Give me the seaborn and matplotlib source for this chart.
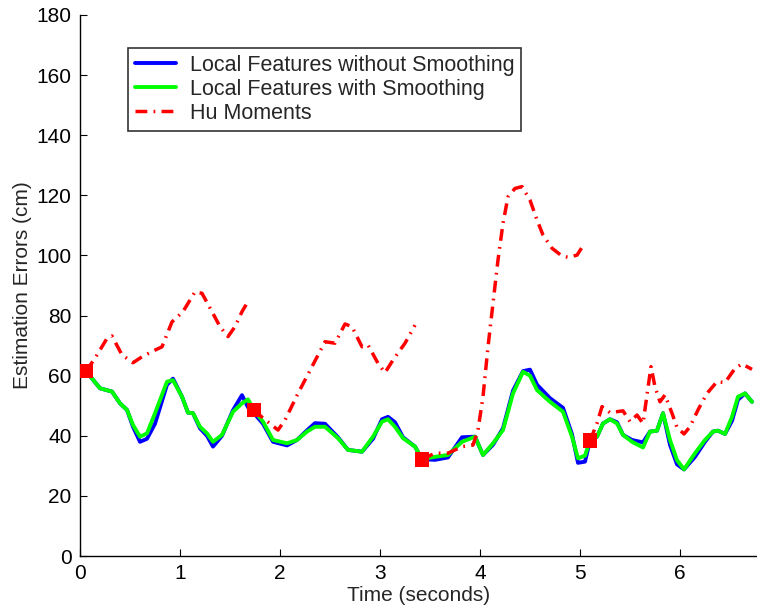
import numpy as np
import pandas as pd
import matplotlib
matplotlib.use('Agg')
import matplotlib.pyplot as plt
import seaborn as sns
from matplotlib.lines import Line2D

# local features time stamps (seconds)
t_local = [0.06, 0.20, 0.32, 0.40, 0.47, 0.53, 0.60, 0.67, 0.75, 0.87, 0.93, 1.02, 1.08, 1.13,
           1.20, 1.27, 1.33, 1.42, 1.53, 1.62, 1.68, 1.74, 1.83, 1.93, 2.07, 2.17, 2.27, 2.35,
           2.45, 2.58, 2.68, 2.82, 2.93, 3.02, 3.08, 3.15, 3.23, 3.35, 3.42, 3.55, 3.68, 3.82,
           3.95, 4.03, 4.13, 4.23, 4.33, 4.43, 4.50, 4.57, 4.70, 4.83, 4.92, 4.98, 5.05, 5.10,
           5.17, 5.23, 5.30, 5.37, 5.43, 5.52, 5.63, 5.70, 5.77, 5.83, 5.90, 5.97, 6.04, 6.15,
           6.25, 6.33, 6.38, 6.45, 6.52, 6.58, 6.65, 6.72]
smooth = [61.5, 55.8, 54.7, 50.8, 48.6, 43.6, 39.7, 40.8, 47.5, 58.0, 58.5, 53.0, 47.7, 47.5,
          43.0, 40.8, 38.0, 40.3, 48.0, 50.8, 52.1, 48.6, 44.7, 38.6, 37.5, 38.6, 41.4, 43.0,
          43.0, 39.2, 35.3, 34.7, 39.7, 44.7, 45.5, 43.0, 39.2, 36.4, 32.2, 33.0, 33.6, 38.0,
          39.7, 33.6, 37.5, 41.9, 54.1, 61.3, 60.0, 55.2, 51.3, 48.0, 39.7, 32.5, 33.4, 38.4,
          39.7, 44.1, 45.5, 44.1, 40.3, 38.0, 36.1, 41.4, 41.7, 47.5, 38.6, 31.9, 28.8, 34.2,
          38.6, 41.4, 41.7, 40.6, 46.3, 53.0, 54.1, 51.3]
no_smooth = [61.5, 55.8, 54.7, 50.8, 48.6, 43.0, 38.0, 39.0, 44.0, 57.0, 59.0, 53.0, 47.7, 47.5,
             42.5, 40.0, 36.4, 40.0, 48.5, 53.5, 49.5, 47.5, 44.0, 38.0, 36.8, 38.6, 41.8, 44.2,
             44.0, 39.5, 35.3, 34.7, 39.0, 45.5, 46.3, 44.5, 39.5, 36.4, 32.2, 32.0, 32.8, 39.5,
             39.7, 33.6, 37.0, 42.5, 55.0, 61.5, 62.0, 57.0, 52.5, 49.3, 40.5, 31.0, 31.4, 38.4,
             39.7, 44.1, 45.5, 44.5, 40.3, 38.6, 37.8, 41.4, 41.7, 47.5, 37.0, 30.5, 28.8, 33.0,
             38.0, 41.4, 41.7, 40.6, 45.0, 52.0, 54.1, 51.3]

# Hu moments, four segments (re-initialised at each red square)
hu_t1 = [0.06, 0.15, 0.27, 0.32, 0.42, 0.53, 0.63, 0.75, 0.82, 0.92, 1.03, 1.15, 1.22, 1.32,
         1.40, 1.48, 1.55, 1.62, 1.67]
hu_v1 = [61.5, 65.8, 72.4, 73.2, 66.9, 64.3, 66.5, 68.5, 69.6, 77.9, 81.3, 87.9, 87.4, 81.3,
         76.3, 73.0, 76.3, 81.3, 84.1]
hu_t2 = [1.74, 1.83, 1.98, 2.05, 2.18, 2.32, 2.45, 2.55, 2.65, 2.72, 2.82, 2.88, 2.98, 3.05,
         3.13, 3.25, 3.35]
hu_v2 = [48.6, 45.9, 41.9, 45.2, 54.1, 63.0, 71.3, 70.8, 77.2, 76.3, 69.6, 70.2, 64.1, 61.0,
         65.2, 70.8, 76.8]
hu_t3 = [3.42, 3.55, 3.68, 3.82, 3.93, 3.98, 4.03, 4.08, 4.13, 4.18, 4.23, 4.28, 4.35, 4.42,
         4.50, 4.57, 4.63, 4.72, 4.82, 4.88, 4.97, 5.02]
hu_v3 = [32.2, 34.2, 34.2, 36.4, 36.9, 41.9, 53.0, 69.6, 84.1, 98.5, 110.7, 119.5, 122.3, 122.9,
         118.4, 111.8, 106.8, 102.4, 99.8, 99.4, 100.1, 102.7]
hu_t4 = [5.10, 5.17, 5.22, 5.30, 5.43, 5.50, 5.57, 5.63, 5.67, 5.71, 5.75, 5.80, 5.85, 5.92,
         5.97, 6.04, 6.10, 6.18, 6.27, 6.37, 6.45, 6.55, 6.62, 6.72]
hu_v4 = [38.4, 44.1, 49.7, 47.7, 48.3, 44.7, 46.9, 44.1, 53.6, 63.0, 56.3, 51.3, 53.6, 47.5,
         42.8, 40.6, 43.0, 48.6, 54.1, 58.0, 57.7, 62.4, 63.9, 62.1]

# re-initialisation points
init_t = [0.06, 1.74, 3.42, 5.10]
init_v = [61.5, 48.6, 32.2, 38.4]

sns.set_style('white')
plt.rcParams['font.family'] = ['Liberation Sans', 'DejaVu Sans']
fs = 15

fig = plt.figure(figsize=(7.57, 6.11), dpi=100)
ax = fig.add_axes([80 / 757, 55 / 611, 1 - 80 / 757, 541 / 611])

local = pd.DataFrame({'t': t_local, 'smooth': smooth, 'no_smooth': no_smooth})
sns.lineplot(data=local, x='t', y='no_smooth', color='#0000ff', lw=2.8, ax=ax, sort=False)
sns.lineplot(data=local, x='t', y='smooth', color='#00ff00', lw=2.8, ax=ax, sort=False)

hu_style = (0, (3.4, 1.8, 0.5, 1.8))
for ht, hv in [(hu_t1, hu_v1), (hu_t2, hu_v2), (hu_t3, hu_v3), (hu_t4, hu_v4)]:
    sns.lineplot(x=ht, y=hv, color='#ff0000', lw=2.5, ax=ax, sort=False, linestyle=hu_style)

sns.scatterplot(x=init_t, y=init_v, marker='s', s=110, color='#ff0000', edgecolor='none',
                ax=ax, zorder=5)

ax.set_xlim(0, 6.77)
ax.set_ylim(0, 180)
ax.set_xticks(range(0, 7))
ax.set_yticks(range(0, 181, 20))
ax.tick_params(direction='in', length=5, labelsize=fs, width=0.8, left=True, bottom=True,
               colors='black', pad=6)
sns.despine(ax=ax)
for s in ['left', 'bottom']:
    ax.spines[s].set_color('black')
    ax.spines[s].set_linewidth(1.0)
ax.set_xlabel('Time (seconds)', fontsize=fs, labelpad=2)
ax.set_ylabel('Estimation Errors (cm)', fontsize=fs, labelpad=3)

handles = [Line2D([], [], color='#0000ff', lw=2.8),
           Line2D([], [], color='#00ff00', lw=2.8),
           Line2D([], [], color='#ff0000', lw=2.5, linestyle=hu_style)]
labels = ['Local Features without Smoothing', 'Local Features with Smoothing', 'Hu Moments']
leg = ax.legend(handles, labels, loc='upper left', bbox_to_anchor=(48 / 677, 508 / 541),
                borderaxespad=0, fontsize=15.5, frameon=True, fancybox=False,
                handlelength=1.9, handletextpad=0.65, labelspacing=0.14, borderpad=0.32)
leg.get_frame().set_edgecolor('black')
leg.get_frame().set_linewidth(1.2)

fig.savefig('out.png', dpi=100)
